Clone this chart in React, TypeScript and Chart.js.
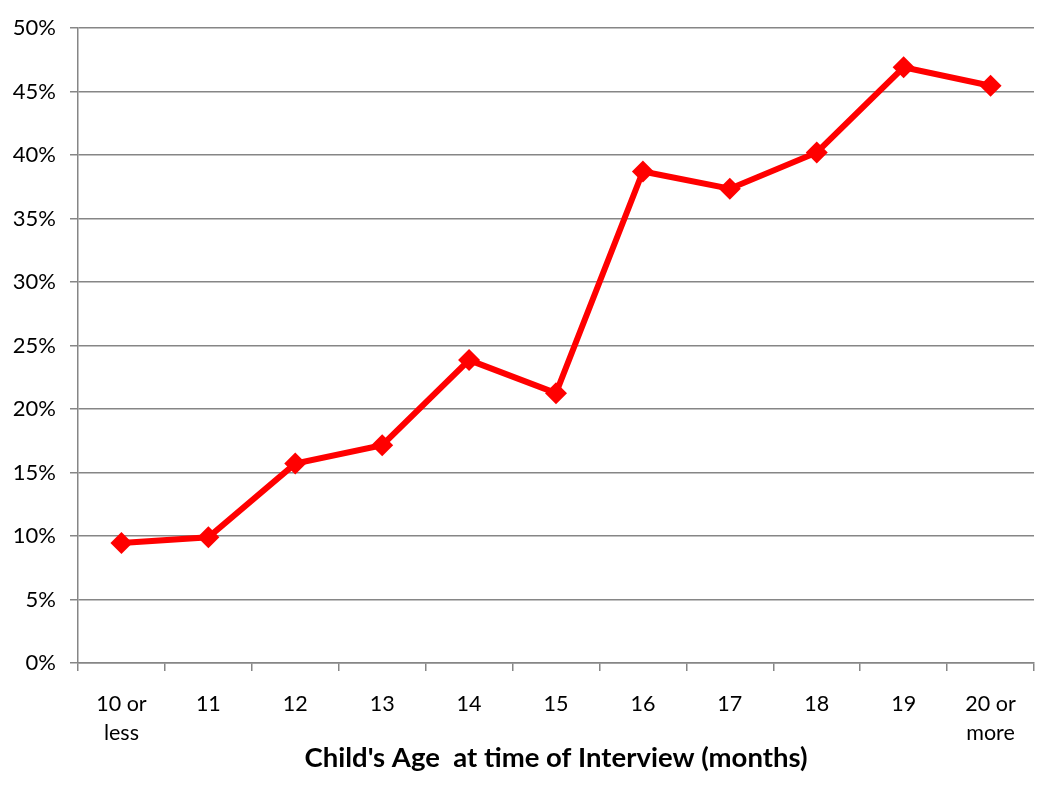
import React, { useEffect, useRef } from "react";
import { Chart, registerables } from "chart.js";

Chart.register(...registerables);

const categories: (string | string[])[] = [
  ["10 or", "less"], "11", "12", "13", "14", "15", "16", "17", "18", "19", ["20 or", "more"],
];
const percentValues: number[] = [9.45, 9.9, 15.7, 17.15, 23.85, 21.25, 38.7, 37.35, 40.2, 46.9, 45.45];
const yTickStep = 5;
const yMax = 50;
const xTitle = "Child's Age  at time of Interview (months)";

const FONT = "Lato, 'Open Sans', sans-serif";
const GRID = "#868686";

export default function App() {
  const ref = useRef<HTMLCanvasElement | null>(null);

  useEffect(() => {
    document.body.style.margin = "0";
    const ctx = ref.current!.getContext("2d")!;
    const chart = new Chart(ctx, {
      type: "line",
      data: {
        labels: categories,
        datasets: [
          {
            data: percentValues,
            borderColor: "#ff0000",
            backgroundColor: "#ff0000",
            borderWidth: 6,
            pointStyle: "rectRot",
            pointRadius: 11,
            pointBorderWidth: 0,
            tension: 0,
          },
        ],
      },
      options: {
        animation: false,
        responsive: false,
        layout: { padding: { top: 28, right: 16, left: 0, bottom: 0 } },
        plugins: { legend: { display: false }, tooltip: { enabled: false } },
        scales: {
          x: {
            offset: true,
            grid: {
              offset: true,
              drawOnChartArea: false,
              drawTicks: true,
              tickLength: 8,
              color: GRID,
              lineWidth: 1.5,
            },
            border: { display: true, color: GRID, width: 1.5 },
            ticks: {
              color: "#000",
              font: { family: FONT, size: 21.5, lineHeight: 1.35 },
              padding: 19,
              maxRotation: 0,
              autoSkip: false,
            },
            title: {
              display: true,
              text: xTitle,
              color: "#000",
              font: { family: FONT, size: 27.5, weight: "bold" },
              padding: { top: 0, bottom: 12 },
            },
            afterFit: (s: any) => {
              s.height = 124;
            },
          },
          y: {
            min: 0,
            max: yMax,
            ticks: {
              stepSize: yTickStep,
              color: "#000",
              font: { family: FONT, size: 22 },
              padding: 14,
              callback: (v: any) => `${v}%`,
            },
            grid: { color: GRID, lineWidth: 1.5, tickLength: 8 },
            border: { display: true, color: GRID, width: 1.5 },
            afterFit: (s: any) => {
              s.width = 78;
            },
          },
        },
      },
    });
    return () => chart.destroy();
  }, []);

  return (
    <div style={{ width: 1050, height: 787 }}>
      <canvas ref={ref} width={1050} height={787} style={{ display: "block" }} />
    </div>
  );
}
